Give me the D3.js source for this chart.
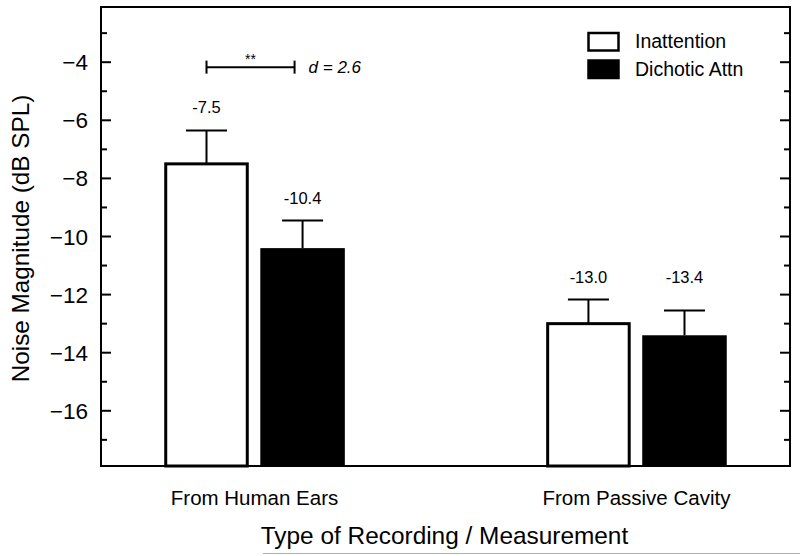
<!DOCTYPE html>
<html>
<head>
<meta charset="utf-8">
<script src="https://cdn.jsdelivr.net/npm/d3@7"></script>
<style>
  html, body { margin: 0; padding: 0; background: #fff; }
  svg { display: block; font-family: "Liberation Sans", Arial, Helvetica, sans-serif; }
</style>
</head>
<body>
<svg id="chart" width="800" height="556"></svg>
<script>
// ---- data ----
const categories = ["From Human Ears", "From Passive Cavity"];
const seriesNames = ["Inattention", "Dichotic Attn"];
const inattentionMeans = [-7.5, -13.0];
const dichoticMeans = [-10.4, -13.4];
const inattentionErr = [1.15, 0.83];
const dichoticErr = [0.95, 0.85];
const valueLabels = [["-7.5", "-13.0"], ["-10.4", "-13.4"]];
const majorTicks = [-4, -6, -8, -10, -12, -14, -16];
const minorTicks = [-3, -5, -7, -9, -11, -13, -15, -17];
const sigText = "**";
const effectText = "d = 2.6";
const yTitle = "Noise Magnitude (dB SPL)";
const xTitle = "Type of Recording / Measurement";

const means = [inattentionMeans, dichoticMeans];
const errs = [inattentionErr, dichoticErr];
const fills = ["#fff", "#000"];

// ---- layout ----
const svg = d3.select("#chart");
const pL = 101, pR = 790, pT = 7, pB = 466;

const y = d3.scaleLinear().domain([-17.9, -2.1]).range([pB, pT]);
const x0 = d3.scalePoint().domain(categories).range([pL, pR]).padding(0.402);
const x1 = d3.scaleBand().domain(seriesNames).range([-90.3, 90.3]).paddingInner(0.12).paddingOuter(0);

// bars
const barData = [];
seriesNames.forEach((s, si) => {
  categories.forEach((c, ci) => {
    barData.push({ s, si, c, ci, v: means[si][ci], e: errs[si][ci], label: valueLabels[si][ci] });
  });
});

const g = svg.append("g");
const sw = 3;
g.selectAll("rect.bar").data(barData).join("rect")
  .attr("class", "bar")
  .attr("x", d => x0(d.c) + x1(d.s) + (d.si === 0 ? sw / 2 : 0))
  .attr("width", d => x1.bandwidth() - (d.si === 0 ? sw : 0))
  .attr("y", d => y(d.v))
  .attr("height", d => pB - y(d.v))
  .attr("fill", d => fills[d.si])
  .attr("stroke", d => d.si === 0 ? "#000" : "none")
  .attr("stroke-width", sw);

// error bars
const capHalf = 20.5;
barData.forEach(d => {
  const cx = x0(d.c) + x1(d.s) + x1.bandwidth() / 2;
  const yt = y(d.v + d.e);
  g.append("line").attr("x1", cx).attr("x2", cx).attr("y1", y(d.v)).attr("y2", yt)
    .attr("stroke", "#000").attr("stroke-width", 2);
  g.append("line").attr("x1", cx - capHalf).attr("x2", cx + capHalf).attr("y1", yt).attr("y2", yt)
    .attr("stroke", "#000").attr("stroke-width", 2);
});

// value labels: above own cap, or shared height when caps are close
barData.forEach(d => {
  const cx = x0(d.c) + x1(d.s) + x1.bandwidth() / 2;
  const caps = seriesNames.map((s, si) => y(means[si][d.ci] + errs[si][d.ci]));
  const own = y(d.v + d.e);
  const spread = Math.max(...caps) - Math.min(...caps);
  const capY = spread < 20 ? Math.min(...caps) : own;
  g.append("text").attr("x", cx).attr("y", capY - 17)
    .attr("text-anchor", "middle").attr("font-size", 16.5).text(d.label);
});

// frame
svg.append("rect").attr("x", pL).attr("y", pT).attr("width", pR - pL).attr("height", pB - pT)
  .attr("fill", "none").attr("stroke", "#000").attr("stroke-width", 2);

// ticks (inward) on left and right
majorTicks.forEach(t => {
  svg.append("line").attr("x1", pL).attr("x2", pL + 10).attr("y1", y(t)).attr("y2", y(t)).attr("stroke", "#000").attr("stroke-width", 2);
  svg.append("line").attr("x1", pR).attr("x2", pR - 10).attr("y1", y(t)).attr("y2", y(t)).attr("stroke", "#000").attr("stroke-width", 2);
  svg.append("text").attr("x", pL - 13).attr("y", y(t)).attr("dy", "0.36em")
    .attr("text-anchor", "end").attr("font-size", 22.5).text("\u2212" + Math.abs(t));
});
minorTicks.forEach(t => {
  svg.append("line").attr("x1", pL).attr("x2", pL + 6).attr("y1", y(t)).attr("y2", y(t)).attr("stroke", "#000").attr("stroke-width", 2);
  svg.append("line").attr("x1", pR).attr("x2", pR - 6).attr("y1", y(t)).attr("y2", y(t)).attr("stroke", "#000").attr("stroke-width", 2);
});

// category labels
categories.forEach(c => {
  svg.append("text").attr("x", x0(c)).attr("y", 505).attr("text-anchor", "middle")
    .attr("font-size", 20.5).text(c);
});

// axis titles
svg.append("text").attr("x", (pL + pR) / 2 - 1).attr("y", 544).attr("text-anchor", "middle")
  .attr("font-size", 24.4).text(xTitle);
svg.append("text").attr("transform", `translate(29,${(pT + pB) / 2 + 2}) rotate(-90)`)
  .attr("text-anchor", "middle").attr("font-size", 24.3).text(yTitle);

// significance bracket
const bx1 = x0(categories[0]) + x1(seriesNames[0]) + x1.bandwidth() / 2;
const bx2 = x0(categories[0]) + x1(seriesNames[1]) + x1.bandwidth() / 2 - 8;
const by = y(-4.17);
svg.append("line").attr("x1", bx1).attr("x2", bx2).attr("y1", by).attr("y2", by).attr("stroke", "#000").attr("stroke-width", 2);
[bx1, bx2].forEach(bx => svg.append("line").attr("x1", bx).attr("x2", bx).attr("y1", by - 6.5).attr("y2", by + 6.5).attr("stroke", "#000").attr("stroke-width", 2));
svg.append("text").attr("x", (bx1 + bx2) / 2).attr("y", by - 3).attr("text-anchor", "middle")
  .attr("font-size", 14).text(sigText);
svg.append("text").attr("x", bx2 + 14).attr("y", by + 6).attr("font-size", 17)
  .attr("font-style", "italic").text(effectText);

// legend
const legend = svg.append("g");
seriesNames.forEach((s, i) => {
  const ly = 33 + i * 27.5;
  legend.append("rect").attr("x", 588.5).attr("y", ly).attr("width", 30).attr("height", 17.5)
    .attr("fill", fills[i]).attr("stroke", "#000").attr("stroke-width", 2.5);
  legend.append("text").attr("x", 635).attr("y", ly + 15).attr("font-size", 19.5).text(s);
});

// faint scan line at bottom edge of the reference
svg.append("line").attr("x1", 263).attr("x2", 800).attr("y1", 553.5).attr("y2", 553.5)
  .attr("stroke", "#b0b0b0").attr("stroke-width", 1);
</script>
</body>
</html>
